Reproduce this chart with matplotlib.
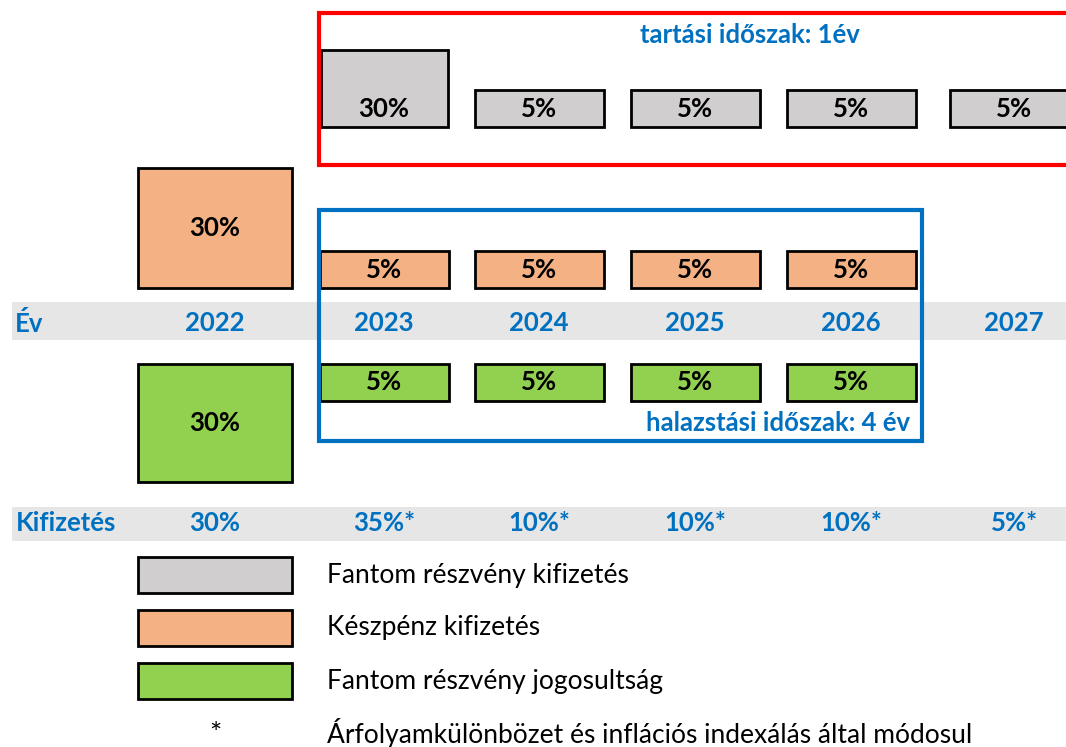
import matplotlib.pyplot as plt
from matplotlib.patches import Rectangle

# data
years = ["2022", "2023", "2024", "2025", "2026", "2027"]
payout = ["30%", "35%*", "10%*", "10%*", "10%*", "5%*"]
phantom_pay = ["", "30%", "5%", "5%", "5%", "5%"]      # gray row
cash_pay = ["30%", "5%", "5%", "5%", "5%", ""]         # orange row
phantom_right = ["30%", "5%", "5%", "5%", "5%", ""]    # green row
legend_labels = ["Fantom részvény kifizetés", "Készpénz kifizetés",
                 "Fantom részvény jogosultság"]
note_text = "Árfolyamkülönbözet és inflációs indexálás által módosul"
hold_text = "tartási időszak: 1év"
defer_text = "halazstási időszak: 4 év"

# layout (pixel space)
col_x = [215, 384, 539, 695, 851, 1014]
gray_c = "#D0CECE"
orange_c = "#F4B183"
green_c = "#92D050"
blue = "#0070C0"
band_c = "#E7E6E6"
fam = ["Lato", "DejaVu Sans"]
fs_b = 18.5   # bold labels
fs_n = 19     # legend text

fig = plt.figure(figsize=(10.66, 7.47), dpi=100)
ax = fig.add_axes([0, 0, 1, 1])
ax.set_xlim(0, 1066)
ax.set_ylim(747, 0)
ax.axis("off")


def box(xc, w, top, h, color, label, ty=None):
    ax.add_patch(Rectangle((xc - w / 2, top), w, h, facecolor=color,
                           edgecolor="black", lw=2, zorder=2))
    if label:
        if ty is None:
            ty = top + h / 2
        ax.text(xc, ty, label, ha="center", va="center", fontsize=fs_b,
                fontweight="bold", family=fam, color="black", zorder=3)


# gray row (bottom aligned at 127)
for i, v in enumerate(phantom_pay):
    if not v:
        continue
    h = 77 if v == "30%" else 37
    w = 127 if v == "30%" else 129
    box(col_x[i], w, 127 - h, h, gray_c, v, ty=127 - 18)

# orange row (bottom aligned at 288)
for i, v in enumerate(cash_pay):
    if not v:
        continue
    big = i == 0
    h = 120 if big else 37
    w = 154 if big else 129
    box(col_x[i], w, 288 - h, h, orange_c, v)

# green row (top aligned at 364)
for i, v in enumerate(phantom_right):
    if not v:
        continue
    big = i == 0
    h = 118 if big else 37
    w = 154 if big else 129
    box(col_x[i], w, 364, h, green_c, v)

# bands
ax.add_patch(Rectangle((12, 302), 1060, 38, facecolor=band_c, lw=0, zorder=0))
ax.add_patch(Rectangle((12, 507), 1060, 34, facecolor=band_c, lw=0, zorder=0))
ax.text(15, 323, "Év", ha="left", va="center", fontsize=fs_b, fontweight="bold",
        family=fam, color=blue)
ax.text(16, 523, "Kifizetés", ha="left", va="center", fontsize=fs_b,
        fontweight="bold", family=fam, color=blue)
for x, y, p in zip(col_x, years, payout):
    ax.text(x, 323, y, ha="center", va="center", fontsize=fs_b,
            fontweight="bold", family=fam, color=blue)
    ax.text(x, 523, p, ha="center", va="center", fontsize=fs_b,
            fontweight="bold", family=fam, color=blue)

# red holding-period frame (open at right)
ax.plot([1070, 319, 319, 1070], [13, 13, 165, 165], color="#FF0000", lw=3,
        solid_joinstyle="miter", zorder=4)
ax.text(750, 35, hold_text, ha="center", va="center", fontsize=fs_b,
        fontweight="bold", family=fam, color=blue)

# blue deferral frame
ax.add_patch(Rectangle((319, 210), 603, 231, facecolor="none", edgecolor=blue,
                       lw=3, zorder=4))
ax.text(910, 423, defer_text, ha="right", va="center", fontsize=fs_b,
        fontweight="bold", family=fam, color=blue)

# legend
leg_colors = [gray_c, orange_c, green_c]
leg_y = [575, 628, 681]
for c, y, lab in zip(leg_colors, leg_y, legend_labels):
    ax.add_patch(Rectangle((138, y - 18), 154, 36, facecolor=c,
                           edgecolor="black", lw=2))
    ax.text(327, y, lab, ha="left", va="center", fontsize=fs_n, family=fam)
ax.text(215, 735, "*", ha="center", va="center", fontsize=fs_n + 2, family=fam)
ax.text(327, 733, note_text, ha="left", va="center", fontsize=fs_n, family=fam)

fig.savefig("out.png", dpi=100)
